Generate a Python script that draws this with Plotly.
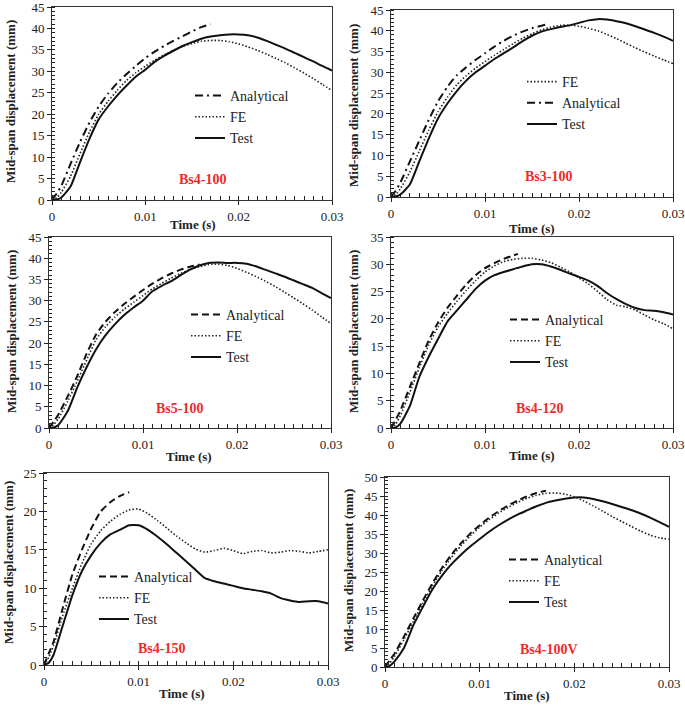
import plotly.graph_objects as go

# ---------------- data ----------------
T = [0, 0.0005, 0.001, 0.002, 0.003, 0.004, 0.005, 0.006, 0.007, 0.008, 0.009, 0.010,
     0.011, 0.012, 0.013, 0.014, 0.015, 0.016, 0.017, 0.018, 0.019, 0.020, 0.021,
     0.022, 0.023, 0.024, 0.025, 0.026, 0.027, 0.028, 0.029, 0.030]

# Bs4-100
bs4_100_test = [0, 0.1, 0.6, 3.2, 8.8, 14.2, 18.8, 21.8, 24.4, 26.7, 28.8, 30.4, 32.2, 33.6, 34.8, 35.9,
                36.8, 37.6, 38.1, 38.4, 38.6, 38.6, 38.4, 37.9, 37.1, 36.2, 35.3, 34.3, 33.3, 32.3, 31.2, 30.2]
bs4_100_fe = [0, 0.5, 1.8, 5.6, 10.8, 15.8, 20.0, 23.0, 25.6, 27.9, 29.7, 31.2, 32.6, 33.8, 34.9, 35.8,
              36.5, 37.0, 37.2, 37.2, 36.9, 36.4, 35.7, 34.9, 34.0, 33.0, 32.0, 30.8, 29.6, 28.3, 26.9, 25.5]
bs4_100_t_an = [0, 0.0005, 0.001, 0.002, 0.003, 0.004, 0.005, 0.006, 0.007, 0.008, 0.009, 0.010,
                0.011, 0.012, 0.013, 0.014, 0.015, 0.016, 0.017]
bs4_100_an = [0, 1.5, 3.3, 8.5, 13.5, 18.0, 21.8, 24.8, 27.3, 29.4, 31.3, 33.1, 34.6, 35.9, 37.1,
              38.2, 39.3, 40.3, 41.0]

# Bs3-100
bs3_100_test = [0, 0.1, 0.6, 3.0, 8.5, 14.0, 18.9, 22.5, 25.5, 28.0, 30.0, 31.6, 33.2, 34.6, 36.0, 37.5,
                38.8, 39.8, 40.4, 40.9, 41.3, 41.9, 42.5, 42.8, 42.7, 42.3, 41.8, 41.1, 40.3, 39.5, 38.6, 37.6]
bs3_100_fe = [0, 0.6, 2.0, 6.0, 11.0, 16.0, 20.5, 24.0, 27.0, 29.2, 31.0, 32.6, 34.1, 35.5, 36.9, 38.2,
              39.3, 40.2, 40.9, 41.3, 41.4, 41.1, 40.6, 40.0, 39.1, 38.1, 37.0, 35.9, 34.9, 33.9, 33.0, 32.1]
bs3_100_t_an = [0, 0.0005, 0.001, 0.002, 0.003, 0.004, 0.005, 0.006, 0.007, 0.008, 0.009, 0.010,
                0.011, 0.012, 0.013, 0.014, 0.015, 0.016, 0.0165]
bs3_100_an = [0, 1.5, 3.5, 8.5, 13.5, 18.5, 23.0, 26.5, 29.3, 31.2, 33.0, 34.6, 36.2, 37.6, 38.8,
              39.8, 40.6, 41.2, 41.5]

# Bs5-100
bs5_100_test = [0, 0.1, 0.7, 4.0, 9.5, 14.3, 18.5, 21.8, 24.4, 26.6, 28.4, 30.0, 32.2, 33.5, 34.6, 36.0,
                37.3, 38.3, 38.9, 39.0, 38.9, 38.9, 38.7, 38.1, 37.3, 36.5, 35.7, 34.8, 33.9, 33.0, 31.8, 30.6]
bs5_100_fe = [0, 0.8, 2.2, 6.3, 11.0, 16.0, 20.8, 23.8, 26.1, 28.0, 29.6, 31.2, 32.8, 34.1, 35.3, 36.4,
              37.3, 38.0, 38.5, 38.6, 38.3, 37.6, 36.7, 35.7, 34.6, 33.4, 32.1, 30.7, 29.3, 27.8, 26.2, 24.6]
bs5_100_t_an = [0, 0.0005, 0.001, 0.002, 0.003, 0.004, 0.005, 0.006, 0.007, 0.008, 0.009, 0.010,
                0.011, 0.012, 0.013, 0.014, 0.015, 0.016]
bs5_100_an = [0, 1.5, 3.2, 7.5, 12.2, 17.5, 22.0, 25.0, 27.3, 29.2, 30.9, 32.5, 34.0, 35.3, 36.4,
              37.3, 38.0, 38.5]

# Bs4-120
bs4_120_test = [0, 0.1, 0.8, 4.0, 9.3, 13.0, 16.3, 19.5, 21.5, 23.5, 25.5, 27.0, 28.0, 28.6, 29.1, 29.6,
                30.0, 30.0, 29.6, 29.0, 28.3, 27.7, 27.0, 26.0, 24.7, 23.6, 22.7, 22.0, 21.6, 21.5, 21.2, 20.8]
bs4_120_fe = [0, 0.7, 2.3, 6.5, 11.0, 15.2, 18.5, 21.0, 23.2, 25.2, 27.0, 28.6, 29.7, 30.5, 30.9, 31.1,
              31.1, 30.8, 30.3, 29.5, 28.6, 27.5, 26.4, 25.0, 23.5, 22.5, 22.2, 21.6, 20.7, 19.8, 19.1, 18.2]
bs4_120_t_an = [0, 0.0005, 0.001, 0.002, 0.003, 0.004, 0.005, 0.006, 0.007, 0.008, 0.009, 0.010,
                0.011, 0.012, 0.013, 0.0135]
bs4_120_an = [0, 1.5, 3.2, 7.5, 11.8, 16.0, 19.3, 22.0, 24.2, 26.3, 28.0, 29.3, 30.2, 31.0, 31.6, 31.9]

# Bs4-150
bs4_150_test = [0, 0.3, 1.3, 5.2, 9.1, 12.2, 14.3, 15.9, 17.0, 17.6, 18.2, 18.2, 17.6, 16.7, 15.7, 14.6,
                13.5, 12.4, 11.3, 10.9, 10.6, 10.3, 10.0, 9.8, 9.6, 9.3, 8.7, 8.4, 8.2, 8.3, 8.3, 8.0]
bs4_150_fe = [0, 1.0, 2.5, 6.5, 10.0, 13.2, 15.8, 17.5, 18.7, 19.6, 20.2, 20.3, 19.7, 18.8, 17.8, 16.8,
              15.9, 15.1, 14.7, 14.9, 15.2, 14.9, 14.5, 14.8, 14.9, 14.6, 14.7, 14.9, 14.8, 14.6, 14.8, 15.0]
bs4_150_t_an = [0, 0.0005, 0.001, 0.002, 0.003, 0.004, 0.005, 0.006, 0.007, 0.008, 0.009]
bs4_150_an = [0, 1.5, 3.0, 7.5, 11.8, 15.0, 17.8, 20.0, 21.2, 22.0, 22.5]

# Bs4-100V
bs4_100v_test = [0, 0.3, 1.5, 5.0, 11.0, 15.8, 20.4, 24.0, 27.0, 29.5, 31.7, 33.7, 35.6, 37.3, 38.8, 40.1,
                 41.2, 42.3, 43.2, 43.8, 44.3, 44.6, 44.6, 44.2, 43.6, 42.9, 42.1, 41.3, 40.4, 39.3, 38.1, 36.9]
bs4_100v_fe = [0, 1.0, 2.8, 7.2, 12.0, 16.8, 21.3, 25.3, 28.8, 31.8, 34.5, 36.8, 38.8, 40.5, 42.0, 43.3,
               44.4, 45.2, 45.7, 45.8, 45.5, 44.8, 43.7, 42.4, 41.0, 39.6, 38.3, 37.0, 35.8, 34.7, 34.0, 33.6]
bs4_100v_t_an = [0, 0.0005, 0.001, 0.002, 0.003, 0.004, 0.005, 0.006, 0.007, 0.008, 0.009, 0.010,
                 0.011, 0.012, 0.013, 0.014, 0.015, 0.016, 0.017]
bs4_100v_an = [0, 1.8, 3.5, 8.0, 12.8, 17.5, 22.0, 26.0, 29.5, 32.5, 35.1, 37.3, 39.3, 41.0, 42.5,
               43.8, 44.9, 45.8, 46.4]

specimens = ["Bs4-100", "Bs3-100", "Bs5-100", "Bs4-120", "Bs4-150", "Bs4-100V"]
x_tickvals = [0, 0.01, 0.02, 0.03]
x_ticktext = ["0", "0.01", "0.02", "0.03"]
y_max = [45, 45, 45, 35, 25, 50]

# ---------------- layout helpers ----------------
W, H = 685, 705
def px(x):
    return x / W
def py(y):
    return 1 - y / H

FONT = "Liberation Serif, Times New Roman, serif"

panels = [
    dict(test=bs4_100_test, fe=bs4_100_fe, t_an=bs4_100_t_an, an=bs4_100_an, andash="8px,4px,2px,4px",
         order=["an", "fe", "test"], xd=(52, 332), yd=(7, 200), leg=(190, 117), lab=(202, 180),
         ytit=(11, 102), xtit=(193, 224)),
    dict(test=bs3_100_test, fe=bs3_100_fe, t_an=bs3_100_t_an, an=bs3_100_an, andash="8px,4px,2px,4px",
         order=["fe", "an", "test"], xd=(391, 673), yd=(10, 197), leg=(522, 103), lab=(548, 176),
         ytit=(353, 105), xtit=(532, 228)),
    dict(test=bs5_100_test, fe=bs5_100_fe, t_an=bs5_100_t_an, an=bs5_100_an, andash="7px,4px",
         order=["an", "fe", "test"], xd=(49, 331), yd=(237, 428), leg=(186, 336), lab=(179, 409),
         ytit=(11, 332), xtit=(189, 456)),
    dict(test=bs4_120_test, fe=bs4_120_fe, t_an=bs4_120_t_an, an=bs4_120_an, andash="7px,4px",
         order=["an", "fe", "test"], xd=(391, 673), yd=(237, 428), leg=(505, 341), lab=(539, 409),
         ytit=(353, 331), xtit=(532, 455)),
    dict(test=bs4_150_test, fe=bs4_150_fe, t_an=bs4_150_t_an, an=bs4_150_an, andash="7px,4px",
         order=["an", "fe", "test"], xd=(44, 328), yd=(473, 665), leg=(94, 598), lab=(161, 648),
         ytit=(8, 563), xtit=(182, 693)),
    dict(test=bs4_100v_test, fe=bs4_100v_fe, t_an=bs4_100v_t_an, an=bs4_100v_an, andash="7px,4px",
         order=["an", "fe", "test"], xd=(385, 669), yd=(477, 667), leg=(504, 581), lab=(549, 649),
         ytit=(348, 570), xtit=(527, 695)),
]

fig = go.Figure()
layout = dict(
    width=W, height=H, margin=dict(l=0, r=0, t=0, b=0, pad=0, autoexpand=False), autosize=False,
    paper_bgcolor="white", plot_bgcolor="white",
    font=dict(family=FONT, size=13, color="#222"),
    annotations=[],
)

for i, p in enumerate(panels):
    n = "" if i == 0 else str(i + 1)
    xa, ya = "x" + n, "y" + n
    leg = "legend" + n
    styles = {
        "an": dict(x=p["t_an"], y=p["an"], name="Analytical",
                   line=dict(color="#111", width=2, dash=p["andash"])),
        "fe": dict(x=T, y=p["fe"], name="FE",
                   line=dict(color="#222", width=1.6, dash="1.5px,2px")),
        "test": dict(x=T, y=p["test"], name="Test",
                     line=dict(color="#111", width=2)),
    }
    for key in p["order"]:
        s = styles[key]
        fig.add_trace(go.Scatter(x=s["x"], y=s["y"], name=s["name"], mode="lines",
                                 line=dict(shape="spline", smoothing=0.5, **s["line"]),
                                 xaxis=xa, yaxis=ya, legend=leg, showlegend=True))
    axcommon = dict(showgrid=False, zeroline=False, showline=True, linecolor="#333",
                    linewidth=1, mirror=True, automargin=False, ticklabeloverflow="allow",
                    tickfont=dict(family=FONT, size=13, color="#222"), tickcolor="#222")
    layout["xaxis" + n] = dict(
        domain=[px(p["xd"][0]), px(p["xd"][1])], anchor=ya, range=[0, 0.03],
        tickvals=x_tickvals, ticktext=x_ticktext, ticks="outside", ticklen=4,
        minor=dict(dtick=0.001, ticks="inside", ticklen=4, tickcolor="#222"),
        **axcommon)
    layout["yaxis" + n] = dict(
        domain=[py(p["yd"][1]), py(p["yd"][0])], anchor=xa, range=[0, y_max[i]],
        dtick=5, tick0=0, ticks="outside", ticklen=4,
        minor=dict(dtick=1, ticks="inside", ticklen=3, tickcolor="#222"),
        **axcommon)
    layout[leg] = dict(x=px(p["leg"][0]), y=py(p["leg"][1]), xanchor="left", yanchor="middle",
                       bgcolor="rgba(0,0,0,0)", borderwidth=0,
                       font=dict(family=FONT, size=14, color="#222"), traceorder="normal")
    layout["annotations"] += [
        dict(text="<b>%s</b>" % specimens[i], x=px(p["lab"][0]), y=py(p["lab"][1]),
             xref="paper", yref="paper", showarrow=False, xanchor="center", yanchor="middle",
             font=dict(family=FONT, size=14, color="#ee2a2a")),
        dict(text="<b>Mid-span displacement (mm)</b>", x=px(p["ytit"][0]), y=py(p["ytit"][1]),
             xref="paper", yref="paper", showarrow=False, textangle=-90,
             xanchor="center", yanchor="middle", font=dict(family=FONT, size=13, color="#222")),
        dict(text="<b>Time (s)</b>", x=px(p["xtit"][0]), y=py(p["xtit"][1]),
             xref="paper", yref="paper", showarrow=False, xanchor="center", yanchor="middle",
             font=dict(family=FONT, size=13, color="#222")),
    ]

fig.update_layout(**layout)
fig.write_html("out.html", config={"responsive": False, "displayModeBar": False},
               post_script="document.body.style.margin='0';document.body.style.overflow='hidden';")
